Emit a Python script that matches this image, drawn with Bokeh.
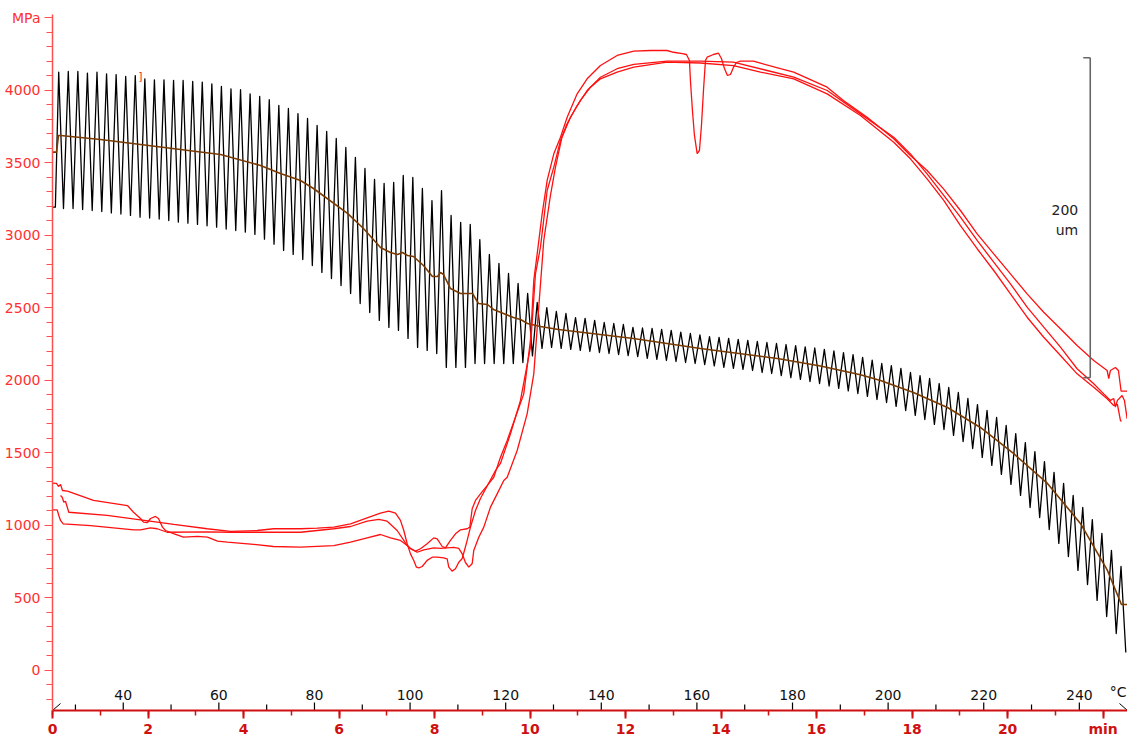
from bokeh.plotting import figure
from bokeh.models import Range1d, FixedTicker
from bokeh.embed import file_html
from bokeh.resources import INLINE
from bokeh.core.properties import value

# ---------------- data ----------------
# Black stress signal: one peak and one trough per load cycle (MPa)
cycle_start_min = 0.13
cycle_period_min = 0.2004
signal_lead_min = [0.0, 0.06]
signal_lead_mpa = [3195, 3195]
peak_mpa = [4126, 4131, 4131, 4120, 4126, 4115, 4110, 4097, 4103, 4080,
            4073, 4073, 4069, 4069, 4062, 4058, 4046, 4028, 4011, 4005,
            3977, 3959, 3936, 3897, 3876, 3841, 3807, 3759, 3717, 3669,
            3607, 3538, 3462, 3386, 3359, 3366, 3414, 3400, 3324, 3241,
            3310, 3138, 3090, 3076, 2972, 2869, 2807, 2738, 2669, 2600,
            2538, 2503, 2476, 2462, 2434, 2428, 2414, 2400, 2393, 2386,
            2366, 2362, 2359, 2352, 2345, 2334, 2324, 2314, 2303, 2297,
            2290, 2283, 2276, 2269, 2262, 2255, 2248, 2240, 2232, 2224,
            2215, 2204, 2192, 2178, 2160, 2140, 2117, 2103, 2083, 2055,
            2034, 2014, 1979, 1952, 1917, 1876, 1834, 1793, 1745, 1690,
            1634, 1572, 1510, 1441, 1366, 1290, 1207, 1124, 1041, 945,
            828, 717]
trough_mpa = [3186, 3186, 3179, 3172, 3165, 3156, 3148, 3138, 3126, 3120,
              3113, 3103, 3092, 3085, 3076, 3067, 3057, 3044, 3034, 3023,
              3007, 2975, 2940, 2897, 2869, 2834, 2793, 2745, 2703, 2655,
              2600, 2531, 2469, 2414, 2366, 2345, 2290, 2228, 2207, 2186,
              2090, 2090, 2090, 2117, 2117, 2117, 2117, 2117, 2124, 2170,
              2221, 2228, 2221, 2214, 2207, 2200, 2193, 2186, 2179, 2172,
              2165, 2152, 2145, 2138, 2131, 2124, 2117, 2110, 2100, 2090,
              2083, 2076, 2069, 2055, 2048, 2034, 2020, 2007, 1993, 1979,
              1962, 1945, 1928, 1910, 1890, 1869, 1848, 1821, 1793, 1759,
              1731, 1697, 1662, 1621, 1579, 1531, 1469, 1414, 1352, 1283,
              1207, 1124, 1055, 972, 876, 786, 690, 593, 483, 372,
              255, 124]

# Brown mean stress line
mean_min = [0, 0.084, 0.126, 0.168, 1.005, 1.843, 2.680, 3.518, 4.355, 4.774,
            5.193, 5.465, 6.177, 6.512, 6.868, 7.077, 7.224, 7.328, 7.433, 7.559,
            7.768, 7.956, 8.061, 8.124, 8.187, 8.333, 8.543, 8.794, 8.920, 9.108,
            9.234, 9.443, 9.652, 9.799, 9.946, 10.218, 10.595, 12.165, 13.568, 15.180,
            16.080, 16.918, 17.337, 18.028, 18.740, 19.430, 20.121, 20.834, 21.524, 22.090,
            22.383, 22.508]
mean_mpa = [3575, 3575, 3690, 3690, 3662, 3628, 3593, 3559, 3483, 3428,
            3379, 3324, 3152, 3048, 2917, 2883, 2869, 2883, 2862, 2855,
            2793, 2717, 2717, 2745, 2731, 2634, 2600, 2600, 2531, 2524,
            2490, 2462, 2434, 2421, 2393, 2372, 2352, 2290, 2221, 2152,
            2100, 2040, 2000, 1917, 1814, 1676, 1497, 1290, 1014, 690,
            455, 455]

# Red dilatation curves (um)
dil1_min = [0, 0.084, 0.126, 0.168, 0.209, 0.314, 0.858, 1.570, 1.696, 1.843,
            1.905, 1.989, 2.052, 2.157, 2.219, 2.303, 2.366, 2.533, 2.743, 3.036,
            3.245, 3.455, 3.664, 4.209, 4.627, 5.193, 5.890, 6.240, 6.589, 6.868,
            7.077, 7.286, 7.427, 7.496, 7.600, 7.705, 7.845, 7.983, 8.055, 8.160,
            8.229, 8.333, 8.438, 8.543, 8.683, 8.738, 8.788, 8.857, 8.961, 9.101,
            9.240, 9.380, 9.521, 9.694, 9.868, 10.008, 10.078, 10.149, 10.253, 10.358,
            10.497, 10.637, 10.777, 10.986, 11.195, 11.474, 11.823, 12.171, 12.521, 12.870,
            13.002, 13.191, 13.275, 13.337, 13.358, 13.400, 13.442, 13.499, 13.547, 13.589,
            13.631, 13.673, 13.708, 13.840, 13.945, 14.007, 14.070, 14.133, 14.196, 14.258,
            14.322, 14.405, 14.678, 14.824, 15.243, 15.521, 16.221, 16.562, 17.058, 17.615,
            17.965, 18.314, 18.662, 19.012, 19.362, 19.709, 20.059, 20.408, 20.756, 21.106,
            21.455, 21.803, 22.084, 22.117, 22.152, 22.257, 22.320, 22.376, 22.503]
dil1_um = [142.1, 141.9, 140.0, 141.3, 137.5, 137.1, 131.3, 128.1, 123.9, 120.0,
           117.7, 117.5, 120.0, 121.3, 120.0, 114.6, 112.5, 110.6, 108.3, 108.8,
           108.3, 105.8, 105.2, 103.8, 102.5, 102.1, 103.1, 105.2, 107.9, 110.0,
           107.9, 106.3, 103.1, 101.1, 99.6, 101.1, 104.2, 107.9, 107.3, 102.5,
           101.7, 106.3, 110.4, 112.9, 113.6, 114.6, 126.1, 131.3, 135.4, 140.6,
           145.8, 158.3, 168.8, 183.3, 197.9, 231.3, 268.8, 285.4, 310.4, 331.3,
           347.9, 358.3, 370.8, 385.4, 394.8, 403.1, 409.4, 412.1, 412.5, 412.5,
           411.4, 410.6, 410.0, 406.3, 393.8, 375.0, 359.4, 348.1, 350.0, 365.6,
           387.5, 406.3, 408.3, 410.0, 410.8, 407.5, 401.3, 396.9, 397.5, 401.9,
           405.0, 405.8, 405.8, 404.6, 401.1, 399.0, 389.6, 381.3, 370.8, 357.3,
           346.9, 337.5, 325.9, 312.5, 297.9, 285.4, 272.9, 260.4, 248.9, 238.6,
           228.1, 218.8, 212.5, 207.5, 212.5, 214.4, 212.5, 199.6, 199.6]

dil2_min = [0.168, 0.203, 0.237, 0.272, 0.341, 1.145, 1.843, 2.540, 3.239, 3.727,
            4.286, 4.634, 5.193, 5.542, 5.890, 6.240, 6.589, 6.868, 7.041, 7.182,
            7.286, 7.356, 7.427, 7.496, 7.565, 7.621, 7.671, 7.741, 7.845, 7.950,
            8.055, 8.193, 8.264, 8.298, 8.367, 8.438, 8.507, 8.576, 8.626, 8.683,
            8.752, 8.857, 8.961, 9.108, 9.276, 9.380, 9.590, 9.799, 10.008, 10.113,
            10.218, 10.358, 10.497, 10.637, 10.777, 10.986, 11.195, 11.474, 11.823, 12.171,
            12.870, 13.568, 14.258, 14.964, 15.521, 16.221, 16.918, 17.615, 17.965, 18.314,
            18.662, 19.012, 19.362, 19.709, 20.059, 20.408, 20.756, 21.106, 21.455, 21.803,
            22.013, 22.152, 22.221, 22.257, 22.299, 22.397, 22.446, 22.503]
dil2_um = [134.4, 133.3, 130.2, 130.8, 123.9, 121.9, 119.2, 116.3, 113.6, 111.9,
           112.5, 113.6, 113.6, 114.0, 114.6, 116.7, 120.4, 123.3, 124.6, 123.3,
           118.8, 112.5, 104.2, 97.9, 93.8, 89.6, 89.2, 90.0, 93.8, 95.8,
           95.8, 95.4, 94.8, 89.6, 87.1, 88.6, 92.7, 94.8, 100.0, 106.3,
           114.6, 125.0, 132.5, 140.6, 150.0, 154.4, 172.9, 193.8, 227.1, 272.9,
           289.6, 325.0, 339.6, 356.3, 366.9, 378.1, 387.5, 395.8, 401.1, 403.8,
           405.8, 405.8, 405.2, 400.0, 395.8, 387.5, 372.9, 358.3, 347.9, 335.4,
           321.9, 308.3, 293.8, 280.2, 266.7, 252.1, 239.6, 227.1, 213.6, 204.2,
           197.9, 193.8, 195.0, 189.6, 193.8, 196.9, 193.8, 182.3]

dil3_min = [0, 0.098, 0.132, 0.168, 0.224, 0.796, 1.702, 1.843, 2.052, 2.192,
            2.402, 3.239, 3.727, 4.634, 5.193, 5.542, 5.890, 6.240, 6.589, 6.832,
            7.008, 7.217, 7.356, 7.427, 7.496, 7.636, 7.774, 7.983, 8.124, 8.264,
            8.402, 8.507, 8.576, 8.647, 8.717, 8.788, 8.821, 8.926, 9.031, 9.171,
            9.311, 9.450, 9.521, 9.730, 9.939, 10.078, 10.182, 10.287, 10.427, 10.532,
            10.668, 10.846, 11.055, 11.265, 11.474, 11.823, 12.171, 12.870, 13.568, 14.258,
            14.824, 15.521, 16.221, 16.918, 17.615, 17.965, 18.314, 18.662, 19.012, 19.362,
            19.709, 20.059, 20.408, 20.756, 21.106, 21.455, 21.803, 22.084, 22.221, 22.299,
            22.362, 22.383]
dil3_um = [125.4, 125.4, 121.9, 118.8, 116.7, 115.6, 112.9, 112.9, 114.2, 113.6,
           111.4, 111.6, 111.4, 111.4, 111.4, 112.5, 113.6, 115.0, 118.3, 119.4,
           118.3, 112.5, 106.3, 103.1, 101.3, 98.9, 100.4, 101.7, 101.3, 101.7,
           101.9, 101.3, 98.1, 92.5, 89.6, 91.9, 100.0, 108.3, 114.6, 127.1,
           135.4, 143.8, 145.8, 162.5, 185.4, 210.4, 252.1, 293.8, 321.9, 339.6,
           358.3, 370.8, 381.3, 389.6, 394.8, 399.0, 402.1, 405.2, 404.7, 403.1,
           399.0, 394.8, 385.4, 371.9, 355.2, 344.8, 332.3, 318.8, 303.1, 288.6,
           275.0, 260.4, 245.8, 233.3, 221.9, 210.4, 202.1, 194.8, 190.6, 191.3,
           181.3, 180.6]

# Axes / ticks
mpa_ticks = [0, 500, 1000, 1500, 2000, 2500, 3000, 3500, 4000]
mpa_unit_tick = 4500
mpa_minor = list(range(-200, 4600, 100))
min_ticks = [0, 2, 4, 6, 8, 10, 12, 14, 16, 18, 20]
min_unit_tick = 22
min_minor = list(range(0, 23))
temp_ticks = [40, 60, 80, 100, 120, 140, 160, 180, 200, 220, 240]
temp_minor = [30, 50, 70, 90, 110, 130, 150, 170, 190, 210, 230]
temp_at_zero_min = 25.2   # degC at t = 0
temp_rate = 9.99          # degC per minute

# scale bar (um)
scale_bar_um = [208, 408]
scale_bar_at_min = 21.73
scale_bar_text = ["200", "um"]

marker_bracket = ("]", 1.84, 4093)

# ---------------- ranges ----------------
X0, X1 = 0.0, 22.51
Y0, Y1 = -276.0, 4524.0
UM0, UM1 = 0.0, 435.0
FRAME_H = 696.0
FRAME_W = 1075.0
mpa_per_px = (Y1 - Y0) / FRAME_H
min_per_px = (X1 - X0) / FRAME_W

p = figure(width=1127, height=740, x_range=Range1d(X0, X1), y_range=Range1d(Y0, Y1),
           output_backend="svg", toolbar_location=None,
           min_border_left=52, min_border_top=14, min_border_right=0, min_border_bottom=30,
           background_fill_color="white", border_fill_color="white")
p.extra_y_ranges = {"um": Range1d(UM0, UM1)}
p.extra_x_ranges = {"temp": Range1d(temp_at_zero_min + temp_rate * X0,
                                    temp_at_zero_min + temp_rate * X1)}
p.outline_line_color = None
p.xgrid.visible = False
p.ygrid.visible = False

FONT = "DejaVu Sans"
LEFT_RED = "#ff5050"
BOTTOM_RED = "#d01010"

# left axis
ya = p.yaxis[0]
ya.ticker = FixedTicker(ticks=mpa_ticks + [mpa_unit_tick], minor_ticks=mpa_minor)
ya.major_label_overrides = {mpa_unit_tick: "MPa"}
ya.axis_line_color = LEFT_RED
ya.axis_line_width = 1.5
ya.major_tick_line_color = LEFT_RED
ya.minor_tick_line_color = LEFT_RED
ya.major_tick_out = 8
ya.major_tick_in = 0
ya.minor_tick_out = 6
ya.minor_tick_in = 0
ya.major_label_text_color = "#ff3030"
ya.major_label_text_font = FONT
ya.major_label_text_font_size = "14px"
ya.major_label_standoff = 4

# bottom axis (minutes)
xa = p.xaxis[0]
xa.ticker = FixedTicker(ticks=min_ticks + [min_unit_tick], minor_ticks=min_minor)
xa.major_label_overrides = {min_unit_tick: "min"}
xa.axis_line_color = BOTTOM_RED
xa.axis_line_width = 2
xa.major_tick_line_color = BOTTOM_RED
xa.major_tick_line_width = 2
xa.minor_tick_line_color = BOTTOM_RED
xa.minor_tick_line_width = 1.5
xa.major_tick_out = 8
xa.major_tick_in = 0
xa.minor_tick_out = 5
xa.minor_tick_in = 0
xa.major_label_text_color = BOTTOM_RED
xa.major_label_text_font = FONT
xa.major_label_text_font_size = "14px"
xa.major_label_text_font_style = "bold"
xa.major_label_standoff = 2

# ---------------- black stress signal ----------------
sig_t = list(signal_lead_min)
sig_v = list(signal_lead_mpa)
for k, (pk, tr) in enumerate(zip(peak_mpa, trough_mpa)):
    tp = cycle_start_min + k * cycle_period_min
    sig_t += [tp, tp + cycle_period_min / 2]
    sig_v += [pk, tr]
p.line(sig_t, sig_v, line_color="#000000", line_width=1.3, line_join="round")

# brown mean line
p.line(mean_min, mean_mpa, line_color="#7a3a00", line_width=1.6)

# red dilatation curves
for tt, uu in ((dil1_min, dil1_um), (dil2_min, dil2_um), (dil3_min, dil3_um)):
    p.line(tt, uu, y_range_name="um", line_color="#ff1010", line_width=1.3)

# red bracket marker
p.text(x=[marker_bracket[1]], y=[marker_bracket[2]], text=[marker_bracket[0]],
       text_color="#ff2020", text_font=value(FONT), text_font_size="11px",
       text_align="center", text_baseline="middle")

# ---------------- temperature axis (drawn on the bottom line) ----------------
n_maj = len(temp_ticks)
n_min = len(temp_minor)
p.segment(x0=temp_ticks, x1=temp_ticks, y0=[Y0] * n_maj, y1=[Y0 + 8 * mpa_per_px] * n_maj,
          x_range_name="temp", line_color="#000000", line_width=1.2)
p.segment(x0=temp_minor, x1=temp_minor, y0=[Y0] * n_min, y1=[Y0 + 6 * mpa_per_px] * n_min,
          x_range_name="temp", line_color="#000000", line_width=1.2)
p.text(x=temp_ticks, y=[Y0] * n_maj, text=[str(t) for t in temp_ticks], x_range_name="temp",
       text_align="center", text_baseline="bottom", y_offset=-11,
       text_font=value(FONT), text_font_size="14px", text_color="#111111")
t_lo = p.extra_x_ranges["temp"].start
t_hi = p.extra_x_ranges["temp"].end
p.text(x=[t_hi], y=[Y0], text=["°C"], x_range_name="temp",
       text_align="right", text_baseline="bottom", y_offset=-11, x_offset=-1,
       text_font=value(FONT), text_font_size="14px", text_color="#111111")
d_t = 8 * min_per_px * temp_rate
p.segment(x0=[t_lo, t_hi], x1=[t_lo + d_t, t_hi - d_t], y0=[Y0, Y0],
          y1=[Y0 + 7 * mpa_per_px] * 2, x_range_name="temp", line_color="#000000", line_width=1)

# ---------------- scale bar ----------------
tick_len = 7 * min_per_px
p.segment(x0=[scale_bar_at_min, scale_bar_at_min - tick_len, scale_bar_at_min - tick_len],
          x1=[scale_bar_at_min, scale_bar_at_min, scale_bar_at_min],
          y0=[scale_bar_um[0], scale_bar_um[0], scale_bar_um[1]],
          y1=[scale_bar_um[1], scale_bar_um[0], scale_bar_um[1]],
          y_range_name="um", line_color="#666666", line_width=1.6)
mid_um = (scale_bar_um[0] + scale_bar_um[1]) / 2
p.text(x=[scale_bar_at_min - 12 * min_per_px] * 2, y=[mid_um, mid_um],
       text=scale_bar_text, y_offset=[-8, 12], y_range_name="um",
       text_align="right", text_baseline="middle",
       text_font=value(FONT), text_font_size="14px", text_color="#222222")

open("out.html", "w").write(file_html(p, INLINE))
